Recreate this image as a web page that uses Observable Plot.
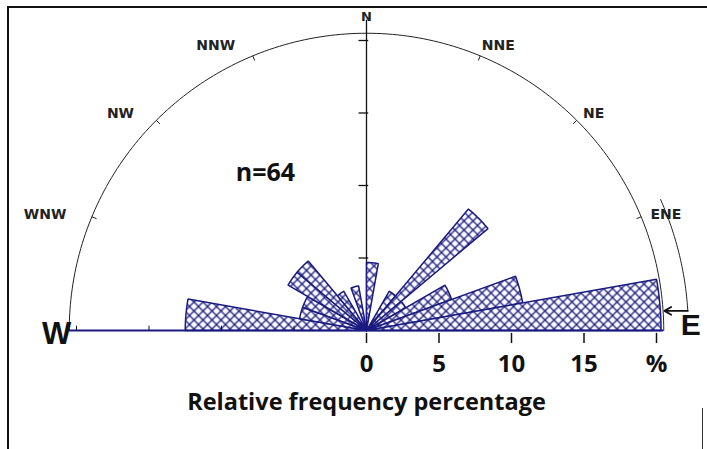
<!DOCTYPE html>
<html>
<head>
<meta charset="utf-8">
<script src="https://cdn.jsdelivr.net/npm/d3@7"></script>
<script src="https://cdn.jsdelivr.net/npm/@observablehq/plot@0.6"></script>
<style>
  html, body { margin: 0; padding: 0; background: #fff; }
  #wrap { position: relative; width: 707px; height: 449px; overflow: hidden; }
  #frameTop { position: absolute; left: 8px; top: 6px; width: 699px; height: 0; border-top: 2px solid #111; }
  #frameLeft { position: absolute; left: 7px; top: 6px; width: 0; height: 443px; border-left: 2px solid #111; }
  #frameRight { position: absolute; left: 702px; top: 408px; width: 0; height: 41px; border-left: 1.5px solid #333; }
</style>
</head>
<body>
<div id="wrap"><div id="frameTop"></div><div id="frameLeft"></div><div id="frameRight"></div></div>
<script>
// ---- data ----
const sampleSize = 64;
const binWidth = 10; // degrees
const binStart = [0, 30, 40, 50, 60, 70, 80, 270, 280, 290, 300, 310, 320, 340]; // azimuth (deg)
const binCount = [3, 2, 7, 2, 4, 7, 13, 8, 3, 3, 4, 4, 2, 2];
const directions = ["W", "WNW", "NW", "NNW", "N", "NNE", "NE", "ENE", "E"];
const directionAz = [270, 292.5, 315, 337.5, 0, 22.5, 45, 67.5, 90];
const tickValues = [0, 5, 10, 15, 20];
const tickLabels = ["0", "5", "10", "15", "%"];
const captionText = "Relative frequency percentage";

// ---- geometry helpers ----
const W = 707, H = 449, cx = 366, cy = 330, k = 14.5; // px per percent
const rad = a => a * Math.PI / 180;
const px = (r, az) => r * Math.sin(rad(az));
const py = (r, az) => r * Math.cos(rad(az));
const navy = "#1a1a80";
const arcR = 20.5;

const petalVerts = [];
binStart.forEach((s, i) => {
  const r = binCount[i] / sampleSize * 100;
  petalVerts.push({bin: i, x: 0, y: 0});
  for (let a = s; a <= s + binWidth + 1e-9; a += 1) petalVerts.push({bin: i, x: px(r, a), y: py(r, a)});
  petalVerts.push({bin: i, x: 0, y: 0});
});

const arcPts = d3.range(-90, 90.5, 1).map(a => ({x: px(arcR, a), y: py(arcR, a)}));
const outerR = 22.2;
const outerPts = d3.range(66, 86.6, 0.5).map(a => ({x: px(outerR, a), y: py(outerR, a)}));
const outerEnd = outerPts[outerPts.length - 1];

const compass = directions.map((d, i) => ({name: d, az: directionAz[i]}));
const minor = compass.filter(d => !["W", "N", "E"].includes(d.name));
const eastLabels = minor.filter(d => d.az < 180);
const westLabels = minor.filter(d => d.az > 180);
const labR = 21.5;

const font = "'Open Sans', 'Liberation Sans', sans-serif";
const cfont = "'DejaVu Sans', sans-serif";

const chart = Plot.plot({
  width: W, height: H, margin: 0,
  x: {domain: [-cx / k, (W - cx) / k], range: [0, W], axis: null},
  y: {domain: [(cy - H) / k, cy / k], range: [H, 0], axis: null},
  style: {background: "transparent", overflow: "visible"},
  marks: [
    // semicircle
    Plot.line(arcPts, {x: "x", y: "y", stroke: "#222", strokeWidth: 1}),
    // compass ticks on the arc
    Plot.link(minor, {x1: d => px(arcR, d.az), y1: d => py(arcR, d.az), x2: d => px(arcR - 0.35, d.az), y2: d => py(arcR - 0.35, d.az), stroke: "#222", strokeWidth: 1}),
    // north axis
    Plot.ruleX([0], {y1: 0, y2: 21.4, stroke: "#111", strokeWidth: 1.3}),
    Plot.link(tickValues.slice(1), {x1: -0.55, x2: 0.12, y1: d => d, y2: d => d, stroke: "#111", strokeWidth: 1.3}),
    // petals
    Plot.line(petalVerts, {x: "x", y: "y", z: "bin", fill: "url(#xh)", stroke: navy, strokeWidth: 1.5, strokeLinejoin: "miter"}),
    // horizontal axis
    Plot.ruleY([0], {x1: -arcR, x2: arcR, stroke: navy, strokeWidth: 2}),
    Plot.ruleX(tickValues, {x: d => d, y1: -0.2, y2: -0.9, stroke: "#111", strokeWidth: 1.5}),
    Plot.ruleX(tickValues.slice(1).map(v => -v), {x: d => d, y1: 0, y2: 0.3, stroke: "#111", strokeWidth: 1}),
    Plot.text(tickValues, {x: d => d, y: -2.3, text: (d, i) => tickLabels[i], fontSize: 24, fontWeight: "bold", fontFamily: font, fill: "#111"}),
    // outer direction arrow
    Plot.line(outerPts, {x: "x", y: "y", stroke: "#222", strokeWidth: 1}),
    Plot.arrow([outerEnd], {x1: d => d.x, y1: d => d.y, x2: arcR + 0.05, y2: d => d.y, bend: 0, headLength: 9, stroke: "#111", strokeWidth: 1.8}),
    // compass labels
    Plot.text(eastLabels, {x: d => px(labR, d.az), y: d => py(labR, d.az), text: "name", textAnchor: "start", dx: -4, dy: 3, fontSize: 14, fontWeight: "bold", fontFamily: cfont, fill: "#222"}),
    Plot.text(westLabels, {x: d => px(labR, d.az), y: d => py(labR, d.az), text: "name", textAnchor: "end", dx: -12, dy: 3, fontSize: 14, fontWeight: "bold", fontFamily: cfont, fill: "#222"}),
    Plot.text(compass.filter(d => d.name === "N"), {x: 0, y: 21.6, text: "name", fontSize: 13, fontWeight: "bold", fontFamily: cfont, fill: "#222"}),
    Plot.text(compass.filter(d => d.name === "W"), {x: -arcR, y: 0, dy: 4, text: "name", textAnchor: "end", dx: 2, fontSize: 31, fontWeight: "bold", fontFamily: "'Liberation Sans', sans-serif", fill: "#111"}),
    Plot.text(compass.filter(d => d.name === "E"), {x: arcR, y: 0, dy: -5, text: "name", textAnchor: "start", dx: 17, fontSize: 30, fontWeight: "bold", fontFamily: "'Liberation Sans', sans-serif", fill: "#111"}),
    // annotations
    Plot.text([`n=${sampleSize}`], {x: -6.97, y: 10.83, text: d => d, fontSize: 25, fontWeight: "bold", fontFamily: font, fill: "#111"}),
    Plot.text([captionText], {x: 0, y: -4.97, text: d => d, fontSize: 23.5, fontWeight: "bold", fontFamily: font, fill: "#111"})
  ]
});

const defs = document.createElementNS("http://www.w3.org/2000/svg", "defs");
defs.innerHTML = `<pattern id="xh" patternUnits="userSpaceOnUse" width="9" height="9">
  <rect width="9" height="9" fill="white"/>
  <path d="M-1,-1 L10,10 M10,-1 L-1,10" stroke="${navy}" stroke-width="1.3"/>
</pattern>`;
chart.insertBefore(defs, chart.firstChild);
chart.style.position = "absolute";
chart.style.left = "0";
chart.style.top = "0";
document.getElementById("wrap").prepend(chart);
</script>
</body>
</html>
